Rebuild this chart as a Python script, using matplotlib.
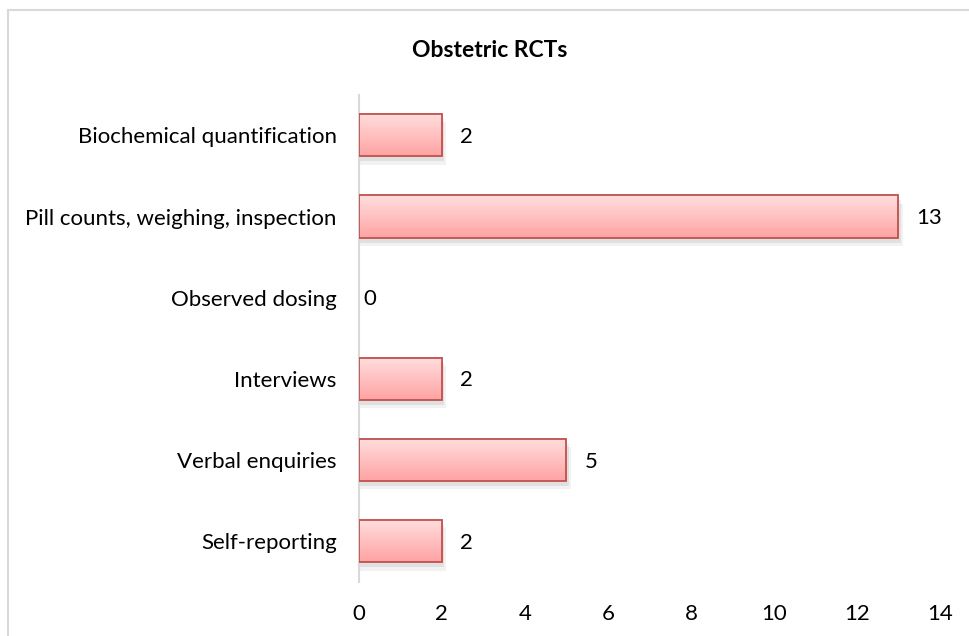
import numpy as np
import matplotlib.pyplot as plt
from matplotlib.patches import Rectangle
from matplotlib.colors import LinearSegmentedColormap

plt.rcParams['font.family'] = ['Lato', 'DejaVu Sans']

categories = ['Self-reporting', 'Verbal enquiries', 'Interviews', 'Observed dosing',
              'Pill counts, weighing, inspection', 'Biochemical quantification']
counts = [2, 5, 2, 0, 13, 2]
xticks = [0, 2, 4, 6, 8, 10, 12, 14]

fig = plt.figure(figsize=(9.7, 6.36), dpi=100)
ax = fig.add_axes([0.370, 0.085, 0.599, 0.766])

# outer chart frame
fig.patches.append(Rectangle((8 / 970, -0.05), 1.1, 1 - 10 / 636 + 0.05,
                             transform=fig.transFigure, fill=False,
                             edgecolor='#d9d9d9', linewidth=1.5, zorder=0))

y = np.arange(len(categories))
edges = ['#c0504d' if c > 0 else 'none' for c in counts]
bars = ax.barh(y, counts, height=0.52, color='none', edgecolor=edges,
               linewidth=1.3, zorder=3)

grad = LinearSegmentedColormap.from_list('pink', ['#ffa3a3', '#ffdede'])
gradient = np.linspace(0, 1, 100).reshape(-1, 1)
for b in bars:
    x0, y0, w, h = b.get_x(), b.get_y(), b.get_width(), b.get_height()
    if w <= 0:
        continue
    # soft shadow
    for k, a in [(0.10, 0.05), (0.06, 0.07)]:
        ax.add_patch(Rectangle((x0, y0 - k), w + k, h, facecolor='#000000',
                               alpha=a, edgecolor='none', zorder=1))
    ax.imshow(gradient, cmap=grad, aspect='auto', origin='lower',
              extent=[x0, x0 + w, y0, y0 + h], zorder=2)

# value labels
for yi, c in zip(y, counts):
    off = 13 if c > 0 else 3
    ax.annotate(str(c), (c, yi), xytext=(off, -1), textcoords='offset points',
                ha='left', va='center', fontsize=16)

ax.set_xlim(0, 14)
ax.set_ylim(-0.5, len(categories) - 0.5)
ax.set_xticks(xticks)
ax.set_xticklabels([str(t) for t in xticks], fontsize=16)
ax.set_yticks(y)
ax.set_yticklabels(categories, fontsize=16)
ax.tick_params(axis='both', length=0)
ax.tick_params(axis='y', pad=16)
ax.tick_params(axis='x', pad=16)

for s in ['top', 'right', 'bottom']:
    ax.spines[s].set_visible(False)
ax.spines['left'].set_color('#d9d9d9')
ax.spines['left'].set_linewidth(1.5)

fig.text(0.505, 0.921, 'Obstetric RCTs', ha='center', va='center',
         fontsize=16.5, fontweight='bold')

fig.savefig('out.png', dpi=100)
